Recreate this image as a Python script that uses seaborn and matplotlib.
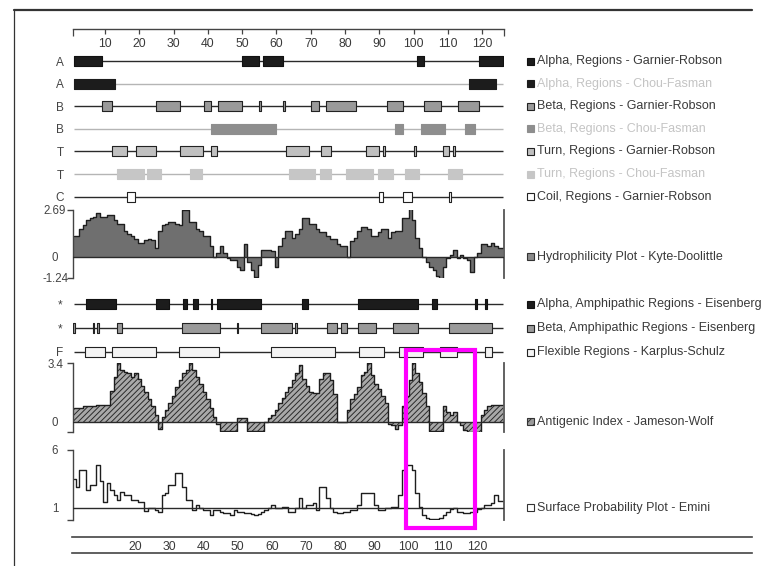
import numpy as np
import matplotlib
matplotlib.use("Agg")
import matplotlib.pyplot as plt
from matplotlib.patches import Rectangle
from matplotlib.lines import Line2D
import seaborn as sns

# ---- data -------------------------------------------------------------
SEQ_LEN = 126
residues = np.arange(1, SEQ_LEN + 1)

hydrophilicity = [
    1.2, 1.2, 1.6, 1.8, 2.1, 2.2, 2.3, 2.5, 2.3, 2.3,
    2.4, 2.4, 2.1, 1.9, 1.9, 1.5, 1.3, 1.2, 1.0, 0.8,
    0.8, 0.95, 1.0, 0.95, 0.5, 1.5, 1.8, 1.9, 2.0, 2.0,
    1.9, 1.8, 2.7, 2.7, 2.0, 2.0, 1.6, 1.5, 1.2, 1.2,
    0.6, 0.0, 0.2, 0.6, 0.2, -0.1, -0.2, -0.2, -0.6, -0.8,
    0.7, -0.3, -0.8, -1.2, -0.5, 0.4, 0.4, 0.4, 0.3, -0.6,
    0.6, 1.1, 1.5, 1.5, 1.1, 1.3, 1.6, 2.2, 2.2, 1.9,
    1.9, 1.6, 1.4, 1.4, 1.2, 1.0, 1.0, 0.7, 0.6, 0.6,
    0.0, 0.9, 1.1, 1.5, 1.7, 1.7, 1.6, 1.2, 1.2, 1.4,
    1.6, 1.6, 1.1, 1.4, 1.5, 1.5, 2.2, 2.2, 2.8, 2.1,
    1.1, 0.5, 0.0, -0.3, -0.6, -0.8, -1.1, -1.3, -0.6, -0.1,
    0.1, 0.4, -0.1, 0.1, -0.1, -0.2, -0.9, 0.0, 0.2, 0.7,
    0.7, 0.6, 0.8, 0.6, 0.5, 0.5,
]
antigenic = [
    0.8, 0.8, 0.8, 0.9, 0.9, 0.9, 0.9, 1.0, 1.0, 1.0,
    1.0, 1.8, 2.6, 3.4, 3.0, 2.9, 2.8, 2.6, 2.8, 2.5,
    2.1, 1.7, 1.3, 0.9, 0.4, -0.4, 0.3, 0.7, 1.1, 1.5,
    2.0, 2.4, 2.8, 3.0, 3.4, 3.0, 2.6, 2.2, 1.7, 1.3,
    0.8, 0.3, -0.1, -0.5, -0.5, -0.5, -0.5, -0.5, 0.2, 0.2,
    0.2, -0.55, -0.55, -0.55, -0.55, -0.55, 0.0, 0.2, 0.4, 0.7,
    1.1, 1.4, 1.75, 2.0, 2.4, 2.8, 3.3, 2.5, 2.1, 1.75,
    1.65, 1.65, 2.5, 2.8, 2.8, 2.4, 1.6, 0.0, 0.0, 0.0,
    0.7, 1.3, 1.6, 2.0, 2.7, 2.9, 3.4, 2.7, 2.2, 1.9,
    1.5, 1.1, -0.1, -0.2, -0.4, -0.2, 0.9, 1.5, 2.4, 3.4,
    2.8, 2.3, 1.65, 0.9, -0.55, -0.55, -0.55, -0.55, 0.9, 0.6,
    0.4, 0.6, 0.0, -0.2, -0.45, -0.6, -0.6, -0.6, -0.6, 0.4,
    0.7, 0.9, 1.0, 1.0, 1.0, 1.0,
]
surface = [
    3.5, 2.8, 4.3, 4.3, 2.5, 3.0, 3.0, 4.7, 3.3, 1.5,
    3.1, 2.5, 2.1, 1.7, 2.4, 2.1, 2.1, 1.7, 1.7, 1.5,
    1.5, 0.7, 0.95, 0.95, 0.8, 0.66, 2.1, 2.3, 3.0, 3.0,
    4.0, 4.0, 2.8, 1.7, 1.7, 0.8, 1.24, 0.95, 0.8, 0.8,
    0.4, 0.8, 0.8, 0.66, 0.5, 0.5, 0.4, 0.8, 0.66, 0.66,
    0.5, 0.5, 0.45, 0.37, 0.45, 0.66, 0.8, 0.95, 1.24, 0.95,
    0.95, 1.1, 1.1, 0.66, 0.66, 0.95, 1.82, 0.95, 1.24, 1.24,
    1.4, 0.8, 2.8, 2.8, 1.82, 0.95, 0.66, 0.5, 0.5, 0.66,
    0.66, 0.8, 0.8, 1.24, 2.25, 2.25, 2.25, 2.25, 1.24, 0.8,
    0.8, 0.95, 0.95, 1.1, 1.1, 2.1, 4.3, 4.7, 4.7, 4.3,
    2.25, 1.1, 0.37, 0.1, 0.05, 0.0, 0.05, 0.1, 0.4, 0.66,
    0.9, 0.95, 0.66, 0.6, 0.5, 0.5, 0.66, 0.66, 0.9, 0.95,
    1.2, 1.24, 1.38, 2.1, 1.6, 1.6,
]

# predicted regions, (first residue, last residue)
alpha_gr = [(1, 9), (50, 55), (56, 62), (101, 103), (119, 126)]
alpha_cf = [(1, 13), (116, 124)]
beta_gr = [(9, 12), (25, 32), (39, 41), (43, 50), (55, 55.6), (62, 62.6),
           (70, 72.5), (74.5, 83.3), (92.3, 97), (103, 108), (113, 119)]
beta_cf = [(41, 60), (94.5, 97), (102, 109), (115, 118)]
turn_gr = [(12, 16.5), (19, 25), (32, 38.7), (41, 42.6), (62.7, 69.6), (73, 76),
           (86, 90), (91, 91.5), (100, 100.6), (108.6, 110.3), (111.5, 112.1)]
turn_cf = [(13.4, 21.4), (22.2, 26.2), (34.8, 38.2), (63.7, 71.2), (72.7, 75.8),
           (80.3, 88.2), (89.7, 94.1), (97.5, 101.5), (110.1, 114.2)]
coil_gr = [(16.5, 18.7), (90, 91), (97, 99.4), (110.3, 110.8)]
alpha_amph = [(4.4, 13.1), (25, 28.8), (32.8, 34), (35.6, 37.2), (40.8, 41.3),
              (42.6, 55.5), (67.3, 69.3), (83.9, 101.4), (105.2, 106.9),
              (117.9, 118.4), (120.8, 121.4)]
beta_amph = [(0.8, 1.3), (6.4, 6.9), (7.8, 8.3), (13.4, 14.9), (32.5, 43.5),
             (48.4, 48.9), (55.4, 64.4), (65.4, 65.9), (74.6, 77.5), (78.7, 80.6),
             (83.9, 89), (94, 101.4), (110.3, 122.7)]
flexible = [(4.2, 10), (12, 24.9), (31.6, 43.3), (58.3, 77.1), (84.1, 91.2),
            (95.8, 102.6), (107.6, 112.7), (120.8, 122.7)]

top_ticks = list(range(10, 121, 10))
bottom_ticks = list(range(20, 121, 10))

# ---- styling ------------------------------------------------------------
sns.set_theme(style="white")
plt.rcParams["font.family"] = ["Liberation Sans", "DejaVu Sans"]
plt.rcParams["hatch.linewidth"] = 0.7

W, H = 769, 566
fig = plt.figure(figsize=(W / 100, H / 100), dpi=100)
fig.patch.set_facecolor("white")


def px(x0, y0, x1, y1):
    """pixel box (top-left origin) -> figure fraction rect"""
    return [x0 / W, 1 - y1 / H, (x1 - x0) / W, (y1 - y0) / H]


XLIM = (0.67, 126.33)
DARK = "#2a2a2a"
FADE = "#c4c4c4"
TXT = "#3a3a3a"
LEG_SIZE = 9.0

track_rows = [
    dict(lab="A", regs=alpha_gr, face="#1c1c1c", edge="#111", line=DARK,
         legend="Alpha, Regions - Garnier-Robson", tcol=TXT),
    dict(lab="A", regs=alpha_cf, face="#1c1c1c", edge="#1c1c1c", line="#b5b5b5",
         legend="Alpha, Regions - Chou-Fasman", tcol=FADE),
    dict(lab="B", regs=beta_gr, face="#9a9a9a", edge="#222", line=DARK,
         legend="Beta, Regions - Garnier-Robson", tcol=TXT),
    dict(lab="B", regs=beta_cf, face="#8e8e8e", edge="#8e8e8e", line="#b5b5b5",
         legend="Beta, Regions - Chou-Fasman", tcol=FADE),
    dict(lab="T", regs=turn_gr, face="#c0c0c0", edge="#222", line=DARK,
         legend="Turn, Regions - Garnier-Robson", tcol=TXT),
    dict(lab="T", regs=turn_cf, face="#c6c6c6", edge="#c6c6c6", line="#b5b5b5",
         legend="Turn, Regions - Chou-Fasman", tcol=FADE),
    dict(lab="C", regs=coil_gr, face="white", edge="#222", line=DARK,
         legend="Coil, Regions - Garnier-Robson", tcol=TXT),
]
amph_rows = [
    dict(lab="*", regs=alpha_amph, face="#1c1c1c", edge="#111", line=DARK,
         legend="Alpha, Amphipathic Regions - Eisenberg", tcol=TXT),
    dict(lab="*", regs=beta_amph, face="#9a9a9a", edge="#222", line=DARK,
         legend="Beta, Amphipathic Regions - Eisenberg", tcol=TXT),
    dict(lab="F", regs=flexible, face="#f4f4f4", edge="#222", line=DARK,
         legend="Flexible Regions - Karplus-Schulz", tcol=TXT),
]


def legend_row(ax, y, text, face, edge, tcol, hatch=None):
    _, ypx = ax.transData.transform((1, y))
    fig.add_artist(Rectangle((527 / W, (ypx - 3.5) / H), 7 / W, 7 / H,
                             transform=fig.transFigure, facecolor=face,
                             edgecolor=edge, lw=0.8, hatch=hatch))
    fig.text(537 / W, ypx / H, text, va="center", ha="left",
             color=tcol, fontsize=LEG_SIZE)


def draw_tracks(ax, rows, box_h):
    ax.set_xlim(*XLIM)
    ax.set_ylim(len(rows) - 0.5, -0.5)
    for i, r in enumerate(rows):
        ax.hlines(i, 1, SEQ_LEN, color=r["line"], lw=1.0, zorder=1)
        ax.broken_barh([(s, e - s) for s, e in r["regs"]], (i - box_h / 2, box_h),
                       facecolors=r["face"], edgecolors=r["edge"], linewidth=0.8,
                       zorder=2)
    ax.set_yticks(range(len(rows)))
    ax.set_yticklabels([r["lab"] for r in rows], color="#444", fontsize=8.5)
    ax.tick_params(axis="y", length=0, pad=9.4)
    for t in ax.get_yticklabels():
        t.set_ha("center")
    ax.set_xticks([])
    sns.despine(ax=ax, left=True, bottom=True)
    for i, r in enumerate(rows):
        legend_row(ax, i, r["legend"], r["face"], r["edge"], r["tcol"])


def profile_axes(rect, lo, hi, mid, labels):
    ax = fig.add_axes(px(*rect))
    ax.set_xlim(*XLIM)
    ax.set_ylim(lo, hi)
    ax.set_yticks([lo, mid, hi])
    ax.set_yticklabels(labels, fontsize=8.3, color="#444")
    ax.tick_params(axis="y", direction="out", length=4.3, width=1.0,
                   color="#444", pad=8.6, left=True)
    ax.yaxis.get_major_ticks()[1].tick1line.set_visible(False)
    for t in ax.get_yticklabels():
        t.set_ha("center")
    ax.set_xticks([])
    for s in ("top", "bottom"):
        ax.spines[s].set_visible(False)
    ax.spines["left"].set_color("#444")
    ax.spines["left"].set_linewidth(1.0)
    ax.spines["right"].set_color("#555")
    ax.spines["right"].set_linewidth(1.3)
    ax.axhline(mid, color=DARK, lw=1.0, zorder=3)
    return ax


# ---- ruler --------------------------------------------------------------
ax_r = fig.add_axes(px(73, 27.5, 504, 28.5))
ax_r.set_xlim(*XLIM)
ax_r.set_yticks([])
ax_r.set_xticks(top_ticks)
ax_r.set_xticks([XLIM[0] + 0.1, XLIM[1] - 0.1], minor=True)
ax_r.tick_params(axis="x", which="major", direction="out", length=3.6, width=0.9,
                 color="#444", labelsize=8.8, labelcolor="#3a3a3a", pad=3.0, bottom=True)
ax_r.tick_params(axis="x", which="minor", direction="out", length=5, width=0.9,
                 color="#444", bottom=True)
sns.despine(ax=ax_r, left=True, top=True, right=True)
ax_r.spines["bottom"].set_color("#444")
ax_r.spines["bottom"].set_linewidth(1.0)

# ---- secondary structure tracks ----------------------------------------
ax_t = fig.add_axes(px(73, 49.7, 504, 207.9))
draw_tracks(ax_t, track_rows, 0.44)

# ---- hydrophilicity ----------------------------------------------------
ax_h = profile_axes((73, 210, 504, 278), -1.24, 2.69, 0, ["-1.24", "0", "2.69"])
ax_h.fill_between(residues, hydrophilicity, 0, step="mid",
                  facecolor="#6f6f6f", edgecolor="none", zorder=1)
sns.lineplot(x=residues, y=hydrophilicity, drawstyle="steps-mid", estimator=None,
             color="#1e1e1e", lw=1.0, ax=ax_h, zorder=2)
ax_h.set_xlabel("")
ax_h.set_ylabel("")
legend_row(ax_h, 0, "Hydrophilicity Plot - Kyte-Doolittle", "#8a8a8a", "#333", TXT)

# ---- amphipathic / flexible tracks -------------------------------------
ax_a = fig.add_axes(px(73, 292, 504, 364))
draw_tracks(ax_a, amph_rows, 0.42)

# ---- antigenic index ----------------------------------------------------
ax_g = profile_axes((73, 363, 504, 432), -0.58, 3.4, 0, ["", "0", "3.4"])
ax_g.fill_between(residues, antigenic, 0, step="mid", facecolor="#a9a9a9",
                  edgecolor="#2a2a2a", hatch="//////", linewidth=0, zorder=1)
sns.lineplot(x=residues, y=antigenic, drawstyle="steps-mid", estimator=None,
             color="#1e1e1e", lw=1.0, ax=ax_g, zorder=2)
ax_g.set_xlabel("")
ax_g.set_ylabel("")
legend_row(ax_g, 0, "Antigenic Index - Jameson-Wolf", "#9a9a9a", "#333", TXT,
           hatch="////")

# ---- surface probability ------------------------------------------------
ax_s = profile_axes((73, 450, 504, 520), -0.07, 6, 1, ["", "1", "6"])
sns.lineplot(x=residues, y=surface, drawstyle="steps-mid", estimator=None,
             color="#1e1e1e", lw=1.0, ax=ax_s, zorder=2)
ax_s.set_xlabel("")
ax_s.set_ylabel("")
legend_row(ax_s, 1, "Surface Probability Plot - Emini", "white", "#333", TXT)

# ---- bottom scale -------------------------------------------------------
ax_b = fig.add_axes(px(72, 537, 752, 553))
ax_b.set_xlim((72 - 66.6) / 3.42, (752 - 66.6) / 3.42)
ax_b.set_yticks([])
ax_b.set_xticks(bottom_ticks)
ax_b.tick_params(axis="x", length=0, pad=-8.6, labelsize=8.8, labelcolor="#3a3a3a")
for s in ("left", "right"):
    ax_b.spines[s].set_visible(False)
for s in ("top", "bottom"):
    ax_b.spines[s].set_color("#444")
    ax_b.spines[s].set_linewidth(1.2)

# ---- page frame + highlight box ----------------------------------------
frame = dict(transform=fig.transFigure, color="#333")
fig.add_artist(Line2D([14 / W, 752 / W], [1 - 10 / H, 1 - 10 / H], lw=1.6, **frame))
fig.add_artist(Line2D([14 / W, 14 / W], [1 - 10 / H, 0], lw=0.9, **frame))
fig.add_artist(Rectangle((405.5 / W, 1 - 527.5 / H), 69 / W, 178 / H, fill=False,
                         edgecolor="#ff00ff", lw=3.0, transform=fig.transFigure,
                         zorder=10))

fig.savefig("out.png", dpi=100, facecolor="white")
